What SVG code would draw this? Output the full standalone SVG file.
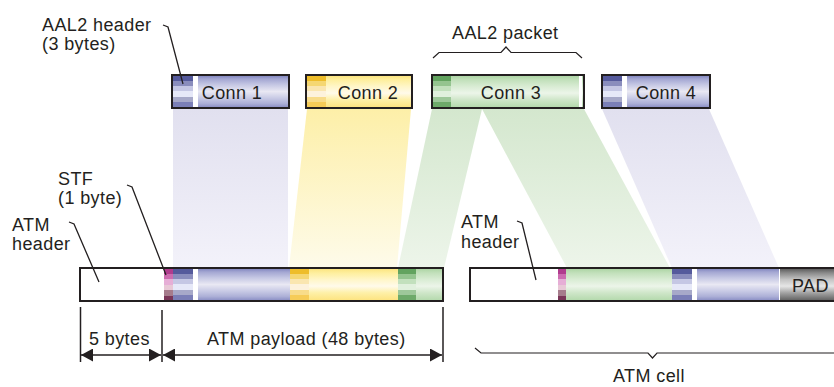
<svg xmlns="http://www.w3.org/2000/svg" width="834" height="387" viewBox="0 0 834 387">
  <style>
    text { font-family: "Liberation Sans", Arial, Helvetica, sans-serif; font-size: 18px; fill: #231f20; letter-spacing: 0.4px; }
    .box { fill: none; stroke: #231f20; stroke-width: 2; }
    .lead { fill: none; stroke: #231f20; stroke-width: 1.3; }
    .dim { fill: none; stroke: #231f20; stroke-width: 1.5; }
    .brace { fill: none; stroke: #231f20; stroke-width: 1.2; }
  </style>
  <defs>
    <!-- packet body fills: horizontal stripes -->
    <linearGradient id="lavBody" x1="0" y1="0" x2="0" y2="1">
      <stop offset="0" stop-color="#7a7fbb"/>
      <stop offset="0.12" stop-color="#a3a6d2"/>
      <stop offset="0.3" stop-color="#c6c8e4"/>
      <stop offset="0.5" stop-color="#e9e8f3"/>
      <stop offset="0.7" stop-color="#c8cae5"/>
      <stop offset="0.86" stop-color="#adb0d7"/>
      <stop offset="1" stop-color="#8589c2"/>
    </linearGradient>
    <linearGradient id="lavHead" x1="0" y1="0" x2="0" y2="1">
      <stop offset="0" stop-color="#555a9c"/>
      <stop offset="0.18" stop-color="#555a9c"/>
      <stop offset="0.18" stop-color="#8a8dbd"/>
      <stop offset="0.34" stop-color="#8a8dbd"/>
      <stop offset="0.34" stop-color="#c5c7e4"/>
      <stop offset="0.5" stop-color="#c5c7e4"/>
      <stop offset="0.5" stop-color="#e6e8f8"/>
      <stop offset="0.66" stop-color="#e6e8f8"/>
      <stop offset="0.66" stop-color="#a7a9c9"/>
      <stop offset="0.82" stop-color="#a7a9c9"/>
      <stop offset="0.82" stop-color="#7b7fb7"/>
      <stop offset="1" stop-color="#7b7fb7"/>
    </linearGradient>
    <linearGradient id="yelBody" x1="0" y1="0" x2="0" y2="1">
      <stop offset="0" stop-color="#fbe27a"/>
      <stop offset="0.15" stop-color="#feef9e"/>
      <stop offset="0.35" stop-color="#fff6c8"/>
      <stop offset="0.55" stop-color="#fffaea"/>
      <stop offset="0.75" stop-color="#fef0a8"/>
      <stop offset="1" stop-color="#fde27c"/>
    </linearGradient>
    <linearGradient id="yelHead" x1="0" y1="0" x2="0" y2="1">
      <stop offset="0" stop-color="#eebd2a"/>
      <stop offset="0.18" stop-color="#eebd2a"/>
      <stop offset="0.18" stop-color="#f5d772"/>
      <stop offset="0.34" stop-color="#f5d772"/>
      <stop offset="0.34" stop-color="#fae6b0"/>
      <stop offset="0.5" stop-color="#fae6b0"/>
      <stop offset="0.5" stop-color="#fdf2dc"/>
      <stop offset="0.66" stop-color="#fdf2dc"/>
      <stop offset="0.66" stop-color="#f8dc8a"/>
      <stop offset="0.82" stop-color="#f8dc8a"/>
      <stop offset="0.82" stop-color="#f6cc58"/>
      <stop offset="1" stop-color="#f6cc58"/>
    </linearGradient>
    <linearGradient id="grnBody" x1="0" y1="0" x2="0" y2="1">
      <stop offset="0" stop-color="#a9d2a0"/>
      <stop offset="0.15" stop-color="#c2e0bb"/>
      <stop offset="0.35" stop-color="#d9ecd4"/>
      <stop offset="0.55" stop-color="#ecf5e9"/>
      <stop offset="0.75" stop-color="#cfe6c9"/>
      <stop offset="1" stop-color="#b2d8aa"/>
    </linearGradient>
    <linearGradient id="grnHead" x1="0" y1="0" x2="0" y2="1">
      <stop offset="0" stop-color="#62a35f"/>
      <stop offset="0.18" stop-color="#62a35f"/>
      <stop offset="0.18" stop-color="#94c48f"/>
      <stop offset="0.34" stop-color="#94c48f"/>
      <stop offset="0.34" stop-color="#c2e0bd"/>
      <stop offset="0.5" stop-color="#c2e0bd"/>
      <stop offset="0.5" stop-color="#e0f0dd"/>
      <stop offset="0.66" stop-color="#e0f0dd"/>
      <stop offset="0.66" stop-color="#9ec89a"/>
      <stop offset="0.82" stop-color="#9ec89a"/>
      <stop offset="0.82" stop-color="#6eaa6a"/>
      <stop offset="1" stop-color="#6eaa6a"/>
    </linearGradient>
    <linearGradient id="stf" x1="0" y1="0" x2="0" y2="1">
      <stop offset="0" stop-color="#b03c8e"/>
      <stop offset="0.17" stop-color="#b03c8e"/>
      <stop offset="0.17" stop-color="#cc6cb0"/>
      <stop offset="0.34" stop-color="#cc6cb0"/>
      <stop offset="0.34" stop-color="#e6aed6"/>
      <stop offset="0.52" stop-color="#e6aed6"/>
      <stop offset="0.52" stop-color="#e8c8d6"/>
      <stop offset="0.68" stop-color="#e8c8d6"/>
      <stop offset="0.68" stop-color="#a67c8c"/>
      <stop offset="0.85" stop-color="#a67c8c"/>
      <stop offset="0.85" stop-color="#7a3658"/>
      <stop offset="1" stop-color="#7a3658"/>
    </linearGradient>
    <linearGradient id="pad" x1="0" y1="0" x2="0" y2="1">
      <stop offset="0" stop-color="#555555"/>
      <stop offset="0.15" stop-color="#8a8a8a"/>
      <stop offset="0.35" stop-color="#c4c4c4"/>
      <stop offset="0.55" stop-color="#e6e6e6"/>
      <stop offset="0.75" stop-color="#a4a4a4"/>
      <stop offset="1" stop-color="#5c5c5c"/>
    </linearGradient>
    <!-- projection bands, fading downwards -->
    <linearGradient id="lavBand" gradientUnits="userSpaceOnUse" x1="0" y1="109" x2="0" y2="268">
      <stop offset="0" stop-color="#e1e0ef"/>
      <stop offset="1" stop-color="#f3f2fa"/>
    </linearGradient>
    <linearGradient id="yelBand" gradientUnits="userSpaceOnUse" x1="0" y1="109" x2="0" y2="268">
      <stop offset="0" stop-color="#fdefa8"/>
      <stop offset="1" stop-color="#fefbea"/>
    </linearGradient>
    <linearGradient id="grnBand" gradientUnits="userSpaceOnUse" x1="0" y1="109" x2="0" y2="268">
      <stop offset="0" stop-color="#d4e7ce"/>
      <stop offset="1" stop-color="#edf5ea"/>
    </linearGradient>
    <marker id="arrow" viewBox="0 0 12 13" refX="12" refY="6.5" markerWidth="12" markerHeight="13" markerUnits="userSpaceOnUse" orient="auto-start-reverse">
      <path d="M0,0 L12,6.5 L0,13 z" fill="#231f20"/>
    </marker>
  </defs>

  <!-- projection bands from packets down into the cells -->
  <g id="bands">
    <polygon points="173,109 288,109 288,268 173,268" fill="url(#lavBand)"/>
    <polygon points="307,109 411,109 397,268 289,268" fill="url(#yelBand)"/>
    <polygon points="432,109 482,109 444,268 398,268" fill="url(#grnBand)"/>
    <polygon points="482,109 584,109 670,268 567,268" fill="url(#grnBand)"/>
    <polygon points="602,109 709,109 779,268 672,268" fill="url(#lavBand)"/>
  </g>

  <!-- AAL2 packets -->
  <g id="conn1">
    <rect x="172" y="75" width="117" height="33" fill="url(#lavBody)"/>
    <rect x="172" y="75" width="21" height="33" fill="url(#lavHead)"/>
    <rect x="193" y="75" width="5" height="33" fill="#ffffff"/>
    <rect x="172" y="75" width="117" height="33" class="box"/>
    <text x="232" y="99" text-anchor="middle">Conn 1</text>
  </g>
  <g id="conn2">
    <rect x="306" y="75" width="106" height="33" fill="url(#yelBody)"/>
    <rect x="306" y="75" width="20" height="33" fill="url(#yelHead)"/>
    <rect x="306" y="75" width="106" height="33" class="box"/>
    <text x="368" y="99" text-anchor="middle">Conn 2</text>
  </g>
  <g id="conn3">
    <rect x="432" y="75" width="152" height="33" fill="url(#grnBody)"/>
    <rect x="432" y="75" width="19" height="33" fill="url(#grnHead)"/>
    <rect x="579" y="75" width="3" height="33" fill="#ffffff"/>
    <rect x="432" y="75" width="152" height="33" class="box"/>
    <text x="511" y="99" text-anchor="middle">Conn 3</text>
  </g>
  <g id="conn4">
    <rect x="602" y="75" width="108" height="33" fill="url(#lavBody)"/>
    <rect x="602" y="75" width="20" height="33" fill="url(#lavHead)"/>
    <rect x="622" y="75" width="5" height="33" fill="#ffffff"/>
    <rect x="602" y="75" width="108" height="33" class="box"/>
    <text x="666" y="99" text-anchor="middle">Conn 4</text>
  </g>

  <!-- first ATM cell -->
  <g id="cell1">
    <rect x="80" y="268" width="363" height="33" fill="#ffffff"/>
    <rect x="164" y="268" width="9" height="33" fill="url(#stf)"/>
    <rect x="173" y="268" width="117" height="33" fill="url(#lavBody)"/>
    <rect x="173" y="268" width="20" height="33" fill="url(#lavHead)"/>
    <rect x="193" y="268" width="5" height="33" fill="#ffffff"/>
    <rect x="290" y="268" width="108" height="33" fill="url(#yelBody)"/>
    <rect x="290" y="268" width="19" height="33" fill="url(#yelHead)"/>
    <rect x="398" y="268" width="45" height="33" fill="url(#grnBody)"/>
    <rect x="398" y="268" width="18" height="33" fill="url(#grnHead)"/>
    <rect x="80" y="268" width="363" height="33" class="box"/>
  </g>

  <!-- second ATM cell -->
  <g id="cell2">
    <rect x="470" y="268" width="366" height="33" fill="#ffffff"/>
    <rect x="558" y="268" width="8" height="33" fill="url(#stf)"/>
    <rect x="566" y="268" width="106" height="33" fill="url(#grnBody)"/>
    <rect x="672" y="268" width="107" height="33" fill="url(#lavBody)"/>
    <rect x="672" y="268" width="20" height="33" fill="url(#lavHead)"/>
    <rect x="692" y="268" width="5" height="33" fill="#ffffff"/>
    <rect x="779" y="268" width="57" height="33" fill="url(#pad)"/>
    <rect x="779" y="268" width="1" height="33" fill="#ffffff"/>
    <rect x="470" y="268" width="366" height="33" class="box"/>
    <text x="792" y="292">PAD</text>
  </g>

  <!-- labels -->
  <g id="labels">
    <text x="42" y="31">AAL2 header</text>
    <text x="42" y="50">(3 bytes)</text>
    <text x="452" y="39">AAL2 packet</text>
    <text x="58" y="185">STF</text>
    <text x="58" y="204">(1 byte)</text>
    <text x="12" y="231">ATM</text>
    <text x="12" y="250">header</text>
    <text x="461" y="228">ATM</text>
    <text x="461" y="248">header</text>
    <text x="89" y="345">5 bytes</text>
    <text x="207" y="345">ATM payload (48 bytes)</text>
    <text x="613" y="382">ATM cell</text>
  </g>

  <!-- leader lines, braces and dimension arrows -->
  <g id="connectors">
    <path class="lead" d="M163,25 L168,27 L183,84"/>
    <path class="lead" d="M127,185 L132,187 L166,275"/>
    <path class="lead" d="M69,222 L74,224 L99,282"/>
    <path class="lead" d="M517,221 L522,223 L536,280"/>
    <path class="brace" d="M433,58 L439,52.5 L501,52.5 L506,47 L511,52.5 L576,52.5 L582,58"/>
    <path class="brace" d="M475,348 L481,353 L648,353 L652.5,358 L657,353 L834,353"/>
    <line class="dim" x1="80.5" y1="307" x2="80.5" y2="362"/>
    <line class="dim" x1="162" y1="310" x2="162" y2="362"/>
    <line class="dim" x1="443" y1="307" x2="443" y2="362"/>
    <line class="dim" x1="81" y1="355" x2="161" y2="355" marker-start="url(#arrow)" marker-end="url(#arrow)"/>
    <line class="dim" x1="163" y1="355" x2="442" y2="355" marker-start="url(#arrow)" marker-end="url(#arrow)"/>
  </g>
</svg>
